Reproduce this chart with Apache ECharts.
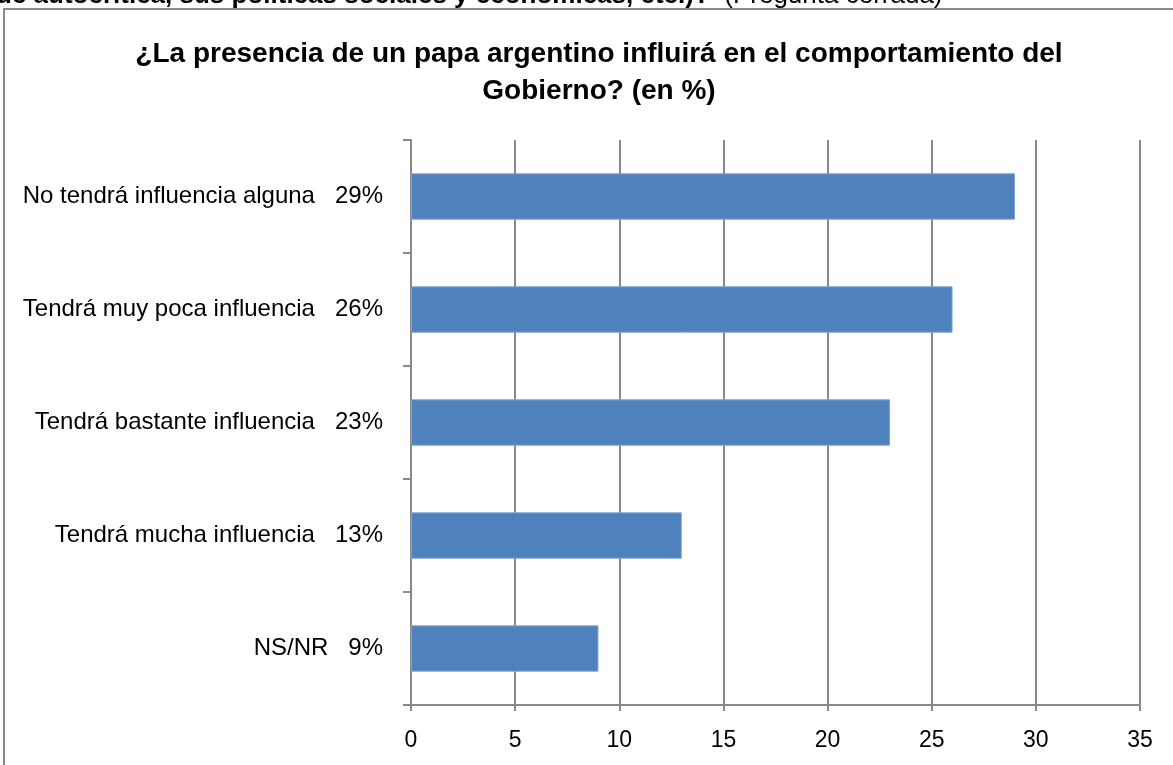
<!DOCTYPE html>
<html>
<head>
<meta charset="utf-8">
<script src="https://cdn.jsdelivr.net/npm/echarts@6/dist/echarts.min.js"></script>
<style>
  html, body { margin: 0; padding: 0; background: #fff; }
  #chart { width: 1173px; height: 765px; }
</style>
</head>
<body>
<div id="chart"></div>
<script>
// datos
var categorias = ['No tendrá influencia alguna', 'Tendrá muy poca influencia', 'Tendrá bastante influencia', 'Tendrá mucha influencia', 'NS/NR'];
var porcentajes = ['29%', '26%', '23%', '13%', '9%'];
var valores = [29, 26, 23, 13, 9];
var ticksX = [0, 5, 10, 15, 20, 25, 30, 35];

var FUENTE = 'Liberation Sans, Arial, sans-serif';
var GRIS = '#898989';

var myChart = echarts.init(document.getElementById('chart'));
var option = {
  backgroundColor: '#fff',
  animation: false,
  graphic: [
    {
      type: 'rect',
      shape: { x: 4, y: 9, width: 1200, height: 800 },
      style: { fill: 'none', stroke: GRIS, lineWidth: 2 },
      z: 0
    },
    {
      type: 'text',
      left: -4,
      top: -17,
      style: {
        text: '{b|de autocrítica, sus políticas sociales y económicas, etc.)?}{r|  (Pregunta cerrada)}',
        rich: {
          b: { fontFamily: FUENTE, fontSize: 26, fontWeight: 'bold', fill: '#000' },
          r: { fontFamily: FUENTE, fontSize: 26, fill: '#000' }
        }
      }
    }
  ],
  title: {
    text: '¿La presencia de un papa argentino influirá en el comportamiento del\nGobierno? (en %)',
    left: 594,
    top: 31,
    textAlign: 'center',
    textStyle: {
      fontFamily: FUENTE,
      fontSize: 28,
      fontWeight: 'bold',
      color: '#000',
      lineHeight: 37
    }
  },
  grid: {
    left: 411,
    right: 33,
    top: 140,
    bottom: 60,
    containLabel: false
  },
  xAxis: {
    type: 'value',
    min: 0,
    max: 35,
    interval: 5,
    axisLine: { show: true, lineStyle: { color: GRIS, width: 2 } },
    axisTick: { show: true, length: 6, lineStyle: { color: GRIS, width: 2 } },
    axisLabel: {
      margin: 24,
      fontFamily: FUENTE,
      fontSize: 23,
      color: '#000',
      formatter: function (v) { return ticksX.indexOf(v) >= 0 ? String(v) : ''; }
    },
    splitLine: { show: true, lineStyle: { color: GRIS, width: 2 } }
  },
  yAxis: {
    type: 'category',
    inverse: true,
    data: categorias,
    axisLine: { show: true, lineStyle: { color: GRIS, width: 2 } },
    axisTick: { show: true, length: 8, lineStyle: { color: GRIS, width: 2 } },
    axisLabel: {
      margin: 28,
      fontFamily: FUENTE,
      fontSize: 24,
      color: '#000',
      formatter: function (v, i) { return v + '   ' + porcentajes[i]; }
    },
    splitLine: { show: false }
  },
  series: [{
    type: 'bar',
    data: valores,
    barCategoryGap: '59%',
    itemStyle: { color: '#4f81bd', borderColor: '#7fa3d1', borderWidth: 1 }
  }]
};
myChart.setOption(option);
</script>
</body>
</html>
